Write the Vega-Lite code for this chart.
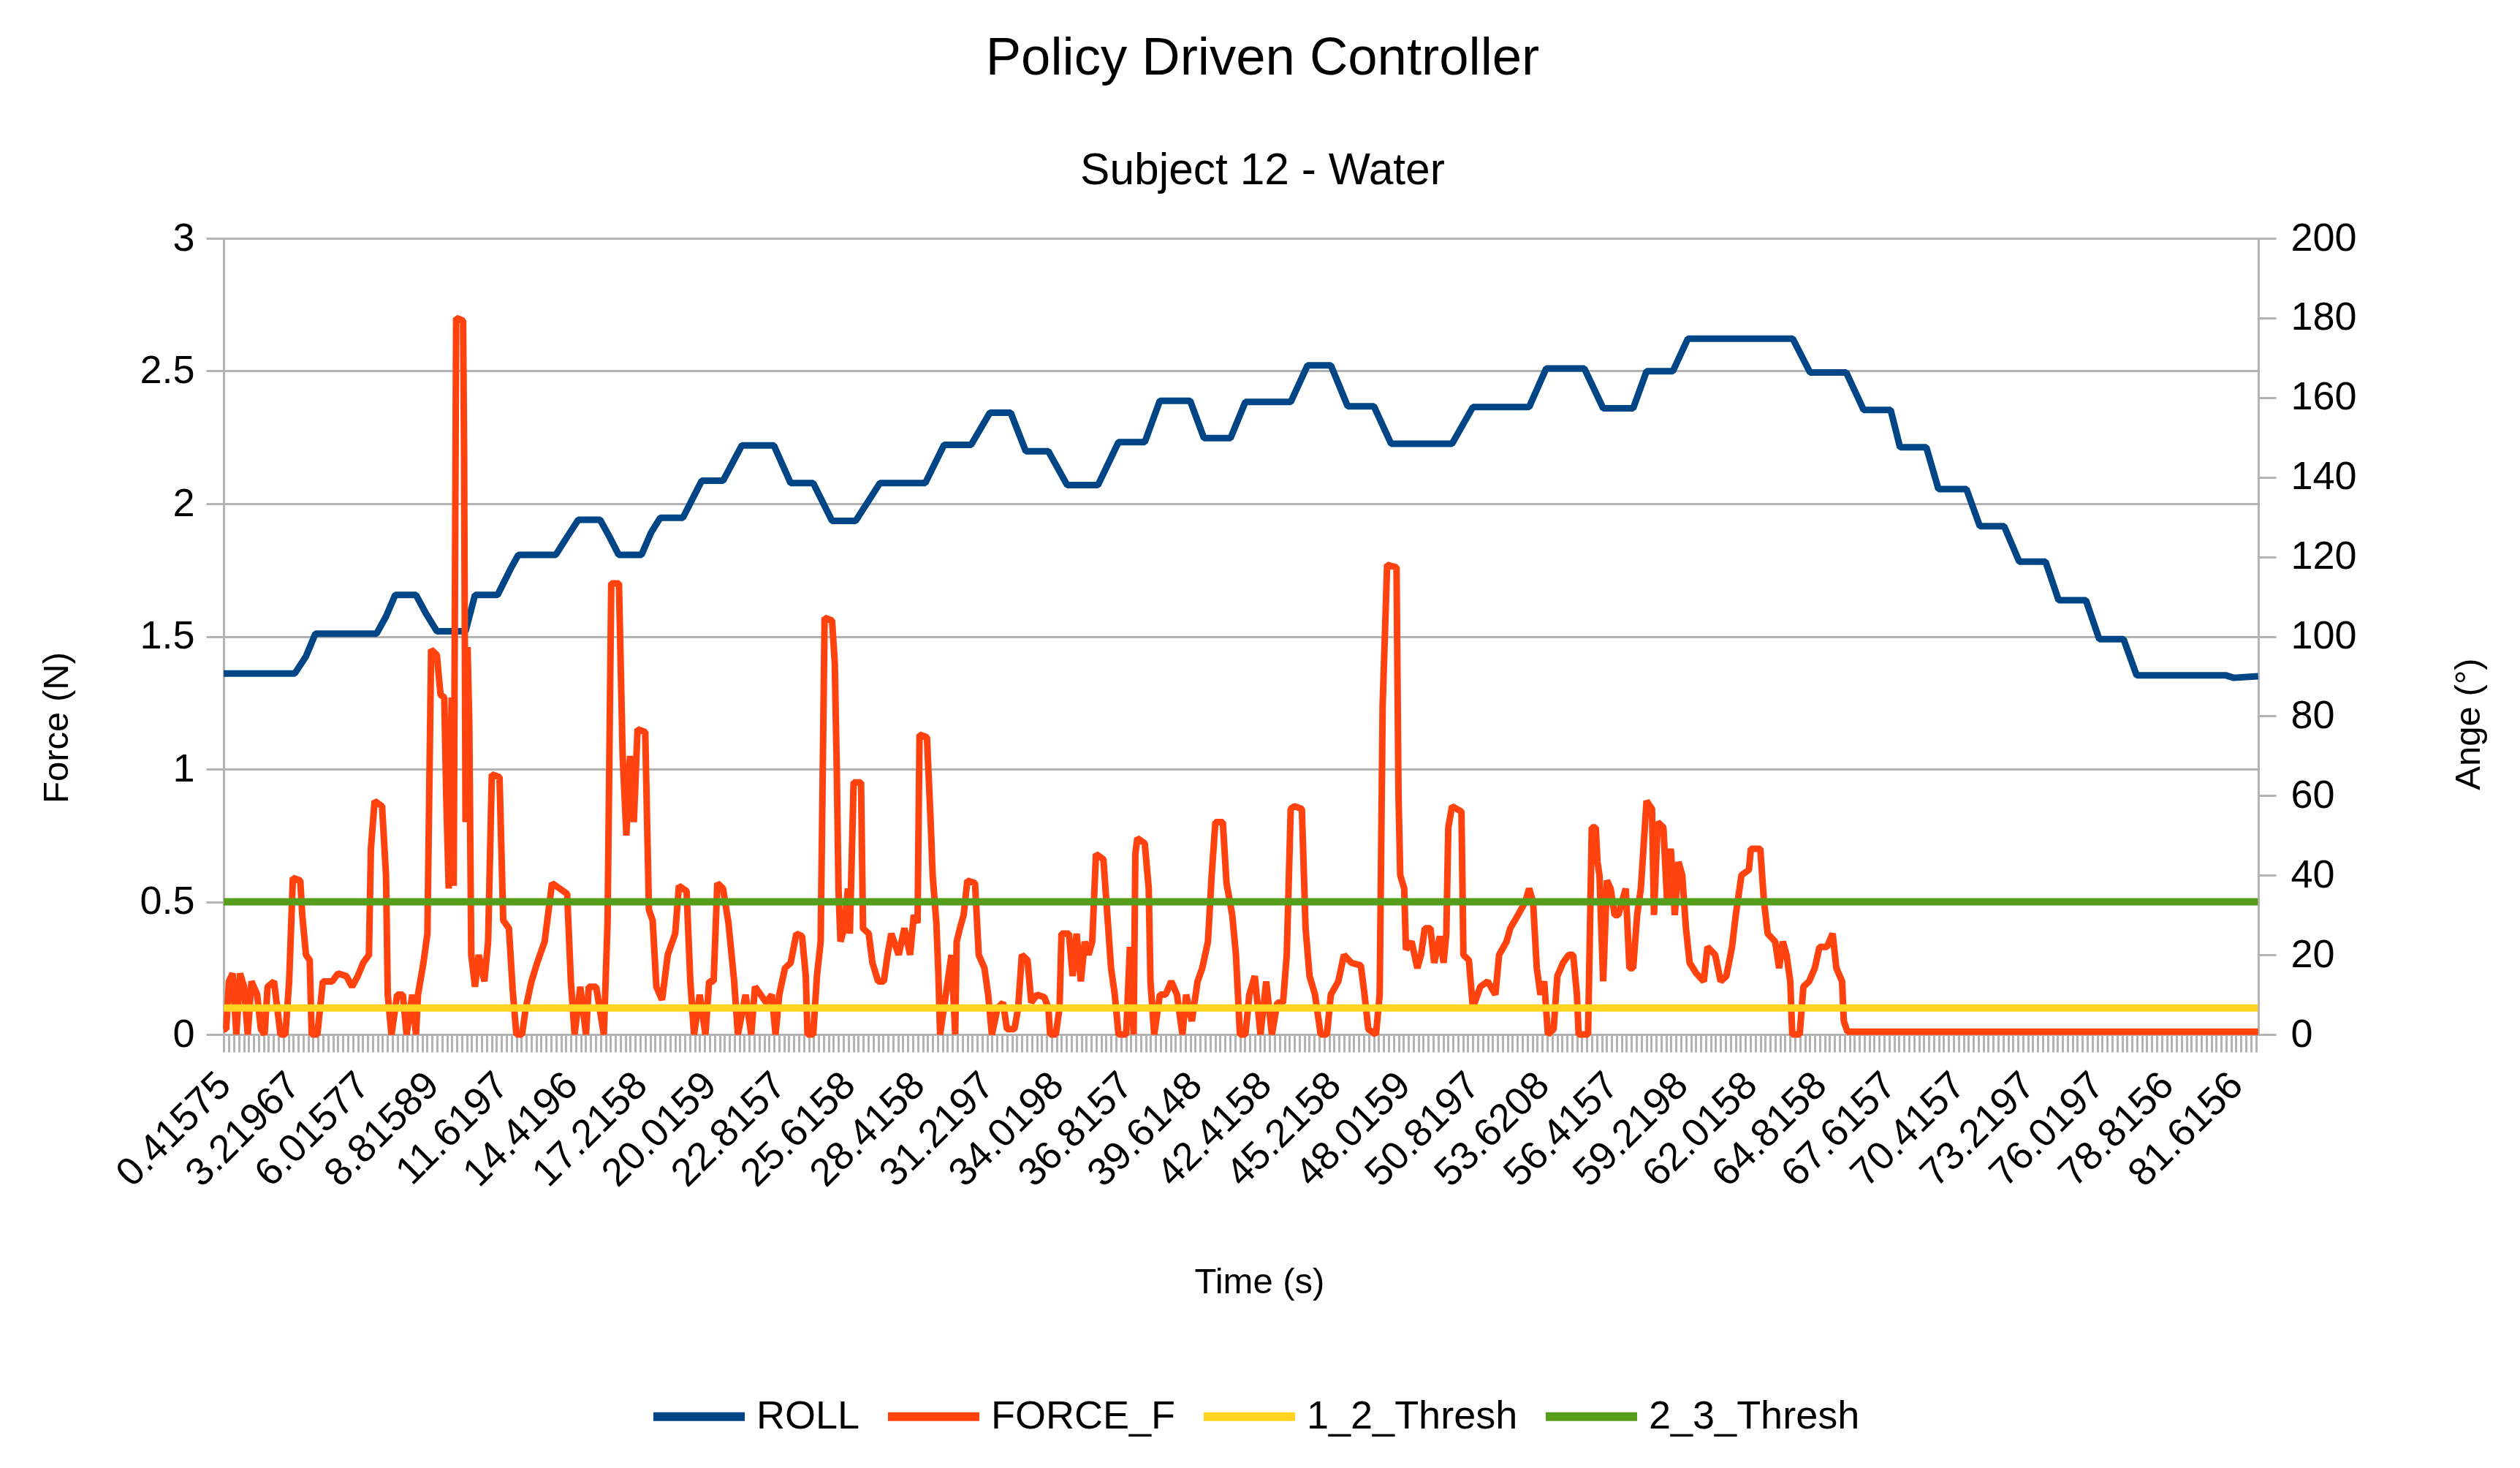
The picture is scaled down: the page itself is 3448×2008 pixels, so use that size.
{
  "$schema": "https://vega.github.io/schema/vega-lite/v6.json",
  "width": 2784,
  "height": 1089,
  "autosize": {"type": "none"},
  "padding": {"left": 306, "top": 326, "right": 358, "bottom": 593},
  "background": "white",
  "title": {
    "text": "Policy Driven Controller",
    "subtitle": "Subject 12 - Water",
    "anchor": "middle",
    "frame": "bounds",
    "font": "Liberation Sans",
    "subtitleFont": "Liberation Sans",
    "fontSize": 72.5,
    "subtitleFontSize": 60.5,
    "fontWeight": "normal",
    "color": "black",
    "subtitleColor": "black",
    "offset": 34,
    "subtitlePadding": 86
  },
  "layer": [
    {
      "data": {"values": [
        {"t":0.39,"a":90.7},{"t":3.26,"a":90.7},{"t":3.71,"a":95},{"t":4.09,"a":100.7},{"t":6.56,"a":100.7},
        {"t":6.94,"a":105},{"t":7.31,"a":110.4},{"t":8.15,"a":110.4},{"t":8.53,"a":106},{"t":8.99,"a":101.3},
        {"t":10.15,"a":101.3},{"t":10.53,"a":110.4},{"t":11.44,"a":110.4},{"t":11.97,"a":117},{"t":12.28,"a":120.5},
        {"t":13.79,"a":120.5},{"t":14.25,"a":125},{"t":14.7,"a":129.3},{"t":15.58,"a":129.3},{"t":15.96,"a":125},
        {"t":16.33,"a":120.5},{"t":17.25,"a":120.5},{"t":17.63,"a":126},{"t":18.01,"a":129.8},{"t":18.92,"a":129.8},
        {"t":19.68,"a":139.1},{"t":20.54,"a":139.1},{"t":21.3,"a":148},{"t":22.59,"a":148},{"t":23.27,"a":138.5},
        {"t":24.18,"a":138.5},{"t":24.94,"a":129},{"t":25.89,"a":129},{"t":26.87,"a":138.5},{"t":28.7,"a":138.5},
        {"t":29.46,"a":148.1},{"t":30.55,"a":148.1},{"t":31.31,"a":156.2},{"t":32.15,"a":156.2},{"t":32.76,"a":146.5},
        {"t":33.67,"a":146.5},{"t":34.43,"a":138},{"t":35.67,"a":138},{"t":36.5,"a":148.8},{"t":37.56,"a":148.8},
        {"t":38.17,"a":159.2},{"t":39.39,"a":159.2},{"t":39.95,"a":149.8},{"t":41.02,"a":149.8},{"t":41.62,"a":158.9},
        {"t":43.45,"a":158.9},{"t":44.13,"a":168.1},{"t":45.07,"a":168.1},{"t":45.75,"a":157.8},{"t":46.81,"a":157.8},
        {"t":47.5,"a":148.4},{"t":49.96,"a":148.4},{"t":50.8,"a":157.6},{"t":53.07,"a":157.6},{"t":53.76,"a":167.3},
        {"t":55.3,"a":167.3},{"t":56.06,"a":157.3},{"t":57.27,"a":157.3},{"t":57.81,"a":166.6},{"t":58.87,"a":166.6},
        {"t":59.48,"a":174.8},{"t":63.71,"a":174.8},{"t":64.41,"a":166.3},{"t":65.87,"a":166.3},{"t":66.57,"a":156.9},
        {"t":67.66,"a":156.9},{"t":68.04,"a":147.5},{"t":69.1,"a":147.5},{"t":69.59,"a":137},{"t":70.72,"a":137},
        {"t":71.26,"a":127.7},{"t":72.24,"a":127.7},{"t":72.85,"a":118.8},{"t":73.91,"a":118.8},{"t":74.44,"a":109.1},
        {"t":75.54,"a":109.1},{"t":76.08,"a":99.3},{"t":77.06,"a":99.3},{"t":77.59,"a":90.2},{"t":81.2,"a":90.2},
        {"t":81.5,"a":89.6},{"t":82.49,"a":90}
      ]},
      "mark": {"type": "line", "strokeWidth": 9, "strokeJoin": "bevel"},
      "encoding": {
        "x": {
          "field": "t", "type": "quantitative",
          "scale": {"domain": [0.387, 82.5], "nice": false, "zero": false},
          "axis": {
            "orient": "bottom", "tickCount": 400, "labels": false, "domain": false, "grid": false,
            "ticks": true, "tickSize": 24, "tickWidth": 3, "tickColor": "#b3b3b3", "title": null
          }
        },
        "y": {
          "field": "a", "type": "quantitative",
          "scale": {"domain": [0, 200], "nice": false, "zero": true},
          "axis": {
            "orient": "right", "values": [0,20,40,60,80,100,120,140,160,180,200], "format": "d",
            "grid": false, "domainColor": "#b3b3b3", "domainWidth": 3,
            "tickColor": "#b3b3b3", "tickWidth": 3, "tickSize": 24, "labelPadding": 20,
            "labelFontSize": 54, "labelColor": "black",
            "title": "Ange (°)", "titleFontSize": 49, "titleFontWeight": "normal", "titleColor": "black",
            "titleAngle": 270, "titleX": 287, "titleY": 664, "titleBaseline": "middle", "titleAlign": "center"
          }
        },
        "color": {
          "datum": "ROLL",
          "title": null,
          "scale": {
            "domain": ["ROLL", "FORCE_F", "1_2_Thresh", "2_3_Thresh"],
            "range": ["#004586", "#ff420e", "#ffd320", "#579d1c"]
          },
          "legend": {
            "orient": "none", "legendX": 582, "legendY": 1543, "direction": "horizontal",
            "title": null, "symbolType": "stroke", "symbolStrokeWidth": 12, "symbolSize": 15625,
            "labelFontSize": 54, "labelColor": "black", "labelOffset": 10, "columnPadding": 14,
            "labelLimit": 1000, "padding": 0
          }
        }
      }
    },
    {
      "data": {"values": [
        {"t":0.39,"f":0.02},{"t":0.49,"f":0.02},{"t":0.6,"f":0.2},{"t":0.75,"f":0.23},{"t":0.9,"f":0},
        {"t":1.05,"f":0.23},{"t":1.21,"f":0.18},{"t":1.36,"f":0},{"t":1.51,"f":0.2},{"t":1.74,"f":0.15},
        {"t":1.89,"f":0.02},{"t":2.04,"f":0},{"t":2.16,"f":0.18},{"t":2.42,"f":0.2},{"t":2.68,"f":0},
        {"t":2.88,"f":0},{"t":3.03,"f":0.2},{"t":3.1,"f":0.38},{"t":3.18,"f":0.59},{"t":3.48,"f":0.58},
        {"t":3.56,"f":0.45},{"t":3.71,"f":0.3},{"t":3.86,"f":0.28},{"t":3.94,"f":0},{"t":4.17,"f":0},
        {"t":4.39,"f":0.2},{"t":4.77,"f":0.2},{"t":5.0,"f":0.23},{"t":5.34,"f":0.22},{"t":5.57,"f":0.18},
        {"t":5.8,"f":0.22},{"t":6.02,"f":0.27},{"t":6.25,"f":0.3},{"t":6.33,"f":0.7},{"t":6.48,"f":0.88},
        {"t":6.78,"f":0.86},{"t":6.94,"f":0.6},{"t":7.01,"f":0.15},{"t":7.16,"f":0},{"t":7.39,"f":0.15},
        {"t":7.62,"f":0.15},{"t":7.77,"f":0},{"t":8.0,"f":0.15},{"t":8.15,"f":0},{"t":8.23,"f":0.15},
        {"t":8.45,"f":0.27},{"t":8.61,"f":0.38},{"t":8.76,"f":1.45},{"t":8.99,"f":1.43},{"t":9.14,"f":1.28},
        {"t":9.29,"f":1.27},{"t":9.37,"f":0.9},{"t":9.47,"f":0.55},{"t":9.59,"f":1.27},{"t":9.67,"f":0.56},
        {"t":9.77,"f":2.7},{"t":10.05,"f":2.69},{"t":10.09,"f":2.2},{"t":10.15,"f":0.8},{"t":10.23,"f":1.46},
        {"t":10.3,"f":1.17},{"t":10.38,"f":0.3},{"t":10.53,"f":0.18},{"t":10.68,"f":0.3},{"t":10.91,"f":0.2},
        {"t":11.06,"f":0.35},{"t":11.21,"f":0.98},{"t":11.52,"f":0.97},{"t":11.67,"f":0.43},{"t":11.9,"f":0.4},
        {"t":12.05,"f":0.17},{"t":12.2,"f":0},{"t":12.43,"f":0},{"t":12.58,"f":0.1},{"t":12.81,"f":0.2},
        {"t":13.04,"f":0.27},{"t":13.34,"f":0.35},{"t":13.64,"f":0.57},{"t":13.95,"f":0.55},{"t":14.25,"f":0.53},
        {"t":14.4,"f":0.2},{"t":14.55,"f":0},{"t":14.78,"f":0.18},{"t":15.01,"f":0},{"t":15.12,"f":0.18},
        {"t":15.42,"f":0.18},{"t":15.73,"f":0},{"t":15.88,"f":0.42},{"t":16.03,"f":1.7},{"t":16.34,"f":1.7},
        {"t":16.49,"f":1.05},{"t":16.64,"f":0.75},{"t":16.79,"f":1.05},{"t":16.94,"f":0.8},{"t":17.09,"f":1.15},
        {"t":17.4,"f":1.14},{"t":17.55,"f":0.47},{"t":17.7,"f":0.43},{"t":17.85,"f":0.18},{"t":18.08,"f":0.13},
        {"t":18.31,"f":0.3},{"t":18.61,"f":0.38},{"t":18.76,"f":0.56},{"t":19.07,"f":0.54},{"t":19.22,"f":0.2},
        {"t":19.37,"f":0},{"t":19.6,"f":0.15},{"t":19.83,"f":0},{"t":19.98,"f":0.2},{"t":20.16,"f":0.2},
        {"t":20.31,"f":0.57},{"t":20.54,"f":0.55},{"t":20.76,"f":0.42},{"t":20.99,"f":0.2},{"t":21.14,"f":0},
        {"t":21.45,"f":0.15},{"t":21.68,"f":0},{"t":21.83,"f":0.18},{"t":22.06,"f":0.15},{"t":22.28,"f":0.12},
        {"t":22.51,"f":0.15},{"t":22.66,"f":0},{"t":22.81,"f":0.15},{"t":23.04,"f":0.25},{"t":23.27,"f":0.27},
        {"t":23.5,"f":0.38},{"t":23.73,"f":0.37},{"t":23.88,"f":0.22},{"t":23.95,"f":0},{"t":24.18,"f":0},
        {"t":24.33,"f":0.22},{"t":24.48,"f":0.35},{"t":24.64,"f":1.57},{"t":24.94,"f":1.56},{"t":25.05,"f":1.4},
        {"t":25.13,"f":1.0},{"t":25.2,"f":0.55},{"t":25.28,"f":0.35},{"t":25.43,"f":0.4},{"t":25.58,"f":0.55},
        {"t":25.66,"f":0.38},{"t":25.81,"f":0.95},{"t":26.11,"f":0.95},{"t":26.19,"f":0.4},{"t":26.42,"f":0.38},
        {"t":26.57,"f":0.27},{"t":26.8,"f":0.2},{"t":27.03,"f":0.2},{"t":27.18,"f":0.3},{"t":27.33,"f":0.38},
        {"t":27.63,"f":0.3},{"t":27.86,"f":0.4},{"t":28.09,"f":0.3},{"t":28.24,"f":0.45},{"t":28.39,"f":0.42},
        {"t":28.47,"f":1.13},{"t":28.77,"f":1.12},{"t":28.92,"f":0.8},{"t":29.0,"f":0.6},{"t":29.15,"f":0.42},
        {"t":29.23,"f":0.23},{"t":29.3,"f":0},{"t":29.53,"f":0.15},{"t":29.76,"f":0.3},{"t":29.91,"f":0},
        {"t":29.97,"f":0.35},{"t":30.1,"f":0.4},{"t":30.25,"f":0.45},{"t":30.4,"f":0.58},{"t":30.71,"f":0.57},
        {"t":30.86,"f":0.3},{"t":31.09,"f":0.25},{"t":31.24,"f":0.15},{"t":31.39,"f":0},{"t":31.62,"f":0.1},
        {"t":31.84,"f":0.12},{"t":32.0,"f":0.02},{"t":32.3,"f":0.02},{"t":32.45,"f":0.1},{"t":32.6,"f":0.3},
        {"t":32.83,"f":0.28},{"t":32.98,"f":0.12},{"t":33.21,"f":0.15},{"t":33.51,"f":0.14},{"t":33.67,"f":0.1},
        {"t":33.74,"f":0},{"t":33.97,"f":0},{"t":34.12,"f":0.1},{"t":34.2,"f":0.38},{"t":34.5,"f":0.38},
        {"t":34.65,"f":0.22},{"t":34.81,"f":0.38},{"t":34.98,"f":0.2},{"t":35.14,"f":0.35},{"t":35.29,"f":0.3},
        {"t":35.44,"f":0.35},{"t":35.59,"f":0.68},{"t":35.89,"f":0.66},{"t":36.05,"f":0.45},{"t":36.2,"f":0.25},
        {"t":36.35,"f":0.15},{"t":36.5,"f":0},{"t":36.81,"f":0},{"t":36.96,"f":0.33},{"t":37.11,"f":0},
        {"t":37.18,"f":0.68},{"t":37.26,"f":0.74},{"t":37.56,"f":0.72},{"t":37.72,"f":0.55},{"t":37.79,"f":0.2},
        {"t":37.94,"f":0},{"t":38.17,"f":0.15},{"t":38.4,"f":0.15},{"t":38.63,"f":0.2},{"t":38.86,"f":0.15},
        {"t":39.08,"f":0},{"t":39.23,"f":0.15},{"t":39.46,"f":0.05},{"t":39.69,"f":0.2},{"t":39.88,"f":0.25},
        {"t":40.11,"f":0.35},{"t":40.26,"f":0.6},{"t":40.41,"f":0.8},{"t":40.71,"f":0.8},{"t":40.86,"f":0.57},
        {"t":41.09,"f":0.45},{"t":41.24,"f":0.3},{"t":41.4,"f":0},{"t":41.62,"f":0},{"t":41.78,"f":0.15},
        {"t":42.0,"f":0.22},{"t":42.23,"f":0},{"t":42.46,"f":0.2},{"t":42.69,"f":0},{"t":42.91,"f":0.12},
        {"t":43.14,"f":0.12},{"t":43.29,"f":0.3},{"t":43.45,"f":0.85},{"t":43.6,"f":0.86},{"t":43.9,"f":0.85},
        {"t":44.05,"f":0.4},{"t":44.21,"f":0.22},{"t":44.43,"f":0.15},{"t":44.66,"f":0},{"t":44.91,"f":0},
        {"t":45.07,"f":0.15},{"t":45.37,"f":0.2},{"t":45.6,"f":0.3},{"t":45.9,"f":0.27},{"t":46.28,"f":0.26},
        {"t":46.43,"f":0.15},{"t":46.58,"f":0.02},{"t":46.89,"f":0},{"t":47.04,"f":0.15},{"t":47.16,"f":1.24},
        {"t":47.34,"f":1.77},{"t":47.72,"f":1.76},{"t":47.8,"f":0.9},{"t":47.87,"f":0.6},{"t":48.03,"f":0.55},
        {"t":48.1,"f":0.32},{"t":48.33,"f":0.35},{"t":48.56,"f":0.25},{"t":48.71,"f":0.3},{"t":48.86,"f":0.4},
        {"t":49.09,"f":0.4},{"t":49.24,"f":0.27},{"t":49.47,"f":0.37},{"t":49.62,"f":0.27},{"t":49.73,"f":0.38},
        {"t":49.81,"f":0.78},{"t":49.96,"f":0.86},{"t":50.34,"f":0.84},{"t":50.42,"f":0.3},{"t":50.64,"f":0.28},
        {"t":50.8,"f":0.1},{"t":51.1,"f":0.18},{"t":51.4,"f":0.2},{"t":51.71,"f":0.15},{"t":51.86,"f":0.3},
        {"t":52.16,"f":0.35},{"t":52.31,"f":0.4},{"t":52.62,"f":0.45},{"t":52.92,"f":0.5},{"t":53.07,"f":0.55},
        {"t":53.23,"f":0.5},{"t":53.38,"f":0.25},{"t":53.53,"f":0.15},{"t":53.68,"f":0.2},{"t":53.83,"f":0},
        {"t":54.06,"f":0.02},{"t":54.21,"f":0.22},{"t":54.44,"f":0.27},{"t":54.67,"f":0.3},{"t":54.85,"f":0.3},
        {"t":55.0,"f":0.15},{"t":55.07,"f":0},{"t":55.45,"f":0},{"t":55.6,"f":0.78},{"t":55.76,"f":0.78},
        {"t":55.83,"f":0.65},{"t":55.91,"f":0.6},{"t":56.06,"f":0.2},{"t":56.21,"f":0.58},{"t":56.36,"f":0.55},
        {"t":56.52,"f":0.45},{"t":56.67,"f":0.45},{"t":56.97,"f":0.55},{"t":57.12,"f":0.25},{"t":57.27,"f":0.25},
        {"t":57.43,"f":0.45},{"t":57.58,"f":0.55},{"t":57.81,"f":0.88},{"t":58.03,"f":0.85},{"t":58.11,"f":0.45},
        {"t":58.26,"f":0.8},{"t":58.49,"f":0.78},{"t":58.64,"f":0.5},{"t":58.79,"f":0.7},{"t":58.95,"f":0.45},
        {"t":59.1,"f":0.65},{"t":59.25,"f":0.6},{"t":59.4,"f":0.4},{"t":59.55,"f":0.27},{"t":59.82,"f":0.23},
        {"t":60.12,"f":0.2},{"t":60.27,"f":0.33},{"t":60.58,"f":0.3},{"t":60.8,"f":0.2},{"t":61.03,"f":0.22},
        {"t":61.26,"f":0.33},{"t":61.41,"f":0.45},{"t":61.64,"f":0.6},{"t":61.94,"f":0.62},{"t":62.02,"f":0.7},
        {"t":62.4,"f":0.7},{"t":62.55,"f":0.5},{"t":62.7,"f":0.38},{"t":63.0,"f":0.35},{"t":63.16,"f":0.25},
        {"t":63.31,"f":0.35},{"t":63.46,"f":0.3},{"t":63.61,"f":0.2},{"t":63.69,"f":0},{"t":63.99,"f":0},
        {"t":64.14,"f":0.18},{"t":64.37,"f":0.2},{"t":64.6,"f":0.25},{"t":64.79,"f":0.33},{"t":65.09,"f":0.33},
        {"t":65.32,"f":0.38},{"t":65.47,"f":0.25},{"t":65.7,"f":0.2},{"t":65.77,"f":0.05},{"t":65.92,"f":0.01},
        {"t":82.49,"f":0.01}
      ]},
      "mark": {"type": "line", "strokeWidth": 9, "strokeJoin": "bevel"},
      "encoding": {
        "x": {
          "field": "t", "type": "quantitative",
          "scale": {"domain": [0.387, 82.5], "nice": false, "zero": false},
          "axis": {
            "orient": "bottom",
            "values": [0.41575, 3.21967, 6.01577, 8.81589, 11.6197, 14.4196, 17.2158, 20.0159, 22.8157, 25.6158,
                       28.4158, 31.2197, 34.0198, 36.8157, 39.6148, 42.4158, 45.2158, 48.0159, 50.8197, 53.6208,
                       56.4157, 59.2198, 62.0158, 64.8158, 67.6157, 70.4157, 73.2197, 76.0197, 78.8156, 81.6156],
            "labelExpr": "'' + datum.value",
            "ticks": false, "tickSize": 0, "grid": false,
            "domain": true, "domainColor": "#b3b3b3", "domainWidth": 3,
            "labelAngle": -45, "labelAlign": "right", "labelBaseline": "middle", "labelPadding": 61,
            "labelFontSize": 54, "labelColor": "black", "labelOverlap": false, "labelBound": false,
            "labelFlush": false, "labelLimit": 1000,
            "title": "Time (s)", "titleFontSize": 49, "titleFontWeight": "normal", "titleColor": "black",
            "titleX": 1417, "titleY": 338, "titleBaseline": "middle", "titleAlign": "center"
          }
        },
        "y": {
          "field": "f", "type": "quantitative",
          "scale": {"domain": [0, 3], "nice": false, "zero": true},
          "axis": {
            "orient": "left", "values": [0, 0.5, 1, 1.5, 2, 2.5, 3], "format": "~g",
            "grid": true, "gridColor": "#b3b3b3", "gridWidth": 3,
            "domainColor": "#b3b3b3", "domainWidth": 3,
            "tickColor": "#b3b3b3", "tickWidth": 3, "tickSize": 24, "labelPadding": 16,
            "labelFontSize": 54, "labelColor": "black",
            "title": "Force (N)", "titleFontSize": 49, "titleFontWeight": "normal", "titleColor": "black",
            "titleAngle": 270, "titleX": -229, "titleY": 669, "titleBaseline": "middle", "titleAlign": "center"
          }
        },
        "color": {"datum": "FORCE_F", "title": null}
      }
    },
    {
      "data": {"values": [
        {"s":"1_2_Thresh","t":0.39,"v":0.1},{"s":"1_2_Thresh","t":82.48,"v":0.1},
        {"s":"2_3_Thresh","t":0.39,"v":0.5},{"s":"2_3_Thresh","t":82.48,"v":0.5}
      ]},
      "mark": {"type": "line", "strokeWidth": 10},
      "encoding": {
        "x": {"field": "t", "type": "quantitative", "axis": null},
        "y": {"field": "v", "type": "quantitative", "scale": {"domain": [0, 3], "nice": false, "zero": true}, "axis": null},
        "color": {"field": "s", "type": "nominal", "title": null}
      }
    }
  ],
  "resolve": {"scale": {"y": "independent"}, "axis": {"x": "independent"}},
  "config": {
    "font": "Liberation Sans",
    "view": {"stroke": null}
  }
}
